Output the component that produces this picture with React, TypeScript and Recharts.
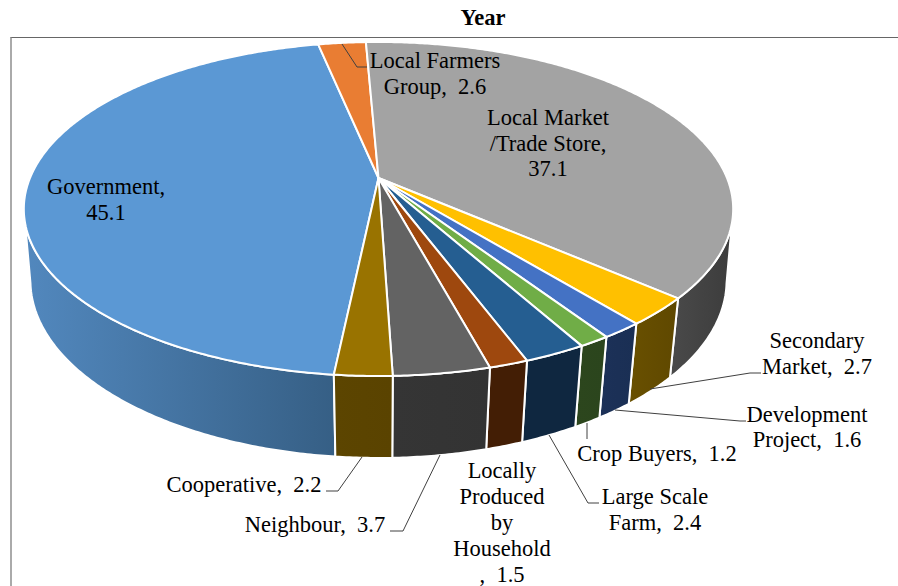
import React from "react";
import { PieChart, Pie } from "recharts";

const categories = ["Government", "Local Farmers Group", "Local Market /Trade Store", "Secondary Market", "Development Project", "Crop Buyers", "Large Scale Farm", "Locally Produced by Household", "Neighbour", "Cooperative"];
const values = [45.1, 2.6, 37.1, 2.7, 1.6, 1.2, 2.4, 1.5, 3.7, 2.2];
const faceColors = ["#5B98D4", "#E97D33", "#A3A3A3", "#FFC000", "#4472C4", "#70AD47", "#255E91", "#9E480E", "#636363", "#997300"];
const wallStart = ["#5288BE", "#8C4A1D", "#4A4A4A", "#695000", "#1C3158", "#2C461D", "#0F2740", "#431E05", "#353535", "#5C4500"];
const wallEnd = ["#365F85", "#8C4A1D", "#3C3C3C", "#5F4800", "#1A2F54", "#2B451D", "#0F2740", "#431E05", "#333333", "#5A4300"];
const labelLines = [
  ["Government,", "45.1"],
  ["Local Farmers", "Group,\u00a0 2.6"],
  ["Local Market", "/Trade Store,", "37.1"],
  ["Secondary", "Market,\u00a0 2.7"],
  ["Development", "Project,\u00a0 1.6"],
  ["Crop Buyers,\u00a0 1.2"],
  ["Large Scale", "Farm,\u00a0 2.4"],
  ["Locally", "Produced", "by", "Household", ",\u00a0 1.5"],
  ["Neighbour,\u00a0 3.7"],
  ["Cooperative,\u00a0 2.2"],
];

// Layout of the labels and their leader lines (not data)
const labelCentre = [106, 435, 548, 817, 807, 657, 655, 502, 315, 244];
const labelBaselines = [
  [194, 220], [68, 94], [125, 151, 176], [348, 374], [422, 447], [461], [504, 530], [478, 504, 530, 556, 582], [532], [492],
];
const leaders: (string | null)[] = [
  null,
  "342,44 357,67 367,67",
  null,
  "650,389 750,373 761,373",
  "615,410 740,421 746,421",
  "587,423 587,439",
  "549,435 588,503 599,503",
  null,
  "440,455 403,531 390,531",
  "362,457 338,491 326,491",
];

const chartData = categories.map((name, i) => ({ name, value: values[i], fill: faceColors[i], idx: i }));

const TOP = { a: 128.2, b: 178, c: -0.1856, d: 348.5 };
const BOTTOM = { a: 129.8, b: 250.3, c: -0.17, d: 343 };
const CX = 378.5;

type Plane = typeof TOP;
const project = (thetaDeg: number, p: Plane) => {
  const r = (thetaDeg * Math.PI) / 180;
  const x = Math.sin(r);
  const y = -Math.cos(r);
  const w = 1 + p.c * y;
  return [CX + (x * p.d) / w, (p.a * y + p.b) / w];
};
const arc = (from: number, to: number, p: Plane) => {
  const out: number[][] = [];
  const n = Math.max(2, Math.ceil(Math.abs(to - from) * 2));
  for (let i = 0; i <= n; i++) out.push(project(from + ((to - from) * i) / n, p));
  return out;
};
const toPath = (pts: number[][]) => "M" + pts.map((q) => q[0].toFixed(2) + "," + q[1].toFixed(2)).join("L") + "Z";

const WALL_FROM = 100.7;
const WALL_TO = 259.3;

const Slice3D = (props: any) => {
  const idx: number = props.payload?.idx ?? props.idx ?? 0;
  const t0 = 90 - props.startAngle;
  const t1 = 90 - props.endAngle;
  const walls: React.ReactNode[] = [];
  for (const k of [-360, 0, 360]) {
    const a = Math.max(t0, WALL_FROM + k);
    const b = Math.min(t1, WALL_TO + k);
    if (b > a) {
      const pts = [...arc(a, b, TOP), ...arc(b, a, BOTTOM)];
      walls.push(<path key={k} d={toPath(pts)} fill={`url(#wall${idx})`} stroke="#fff" strokeWidth={2} strokeLinejoin="round" />);
    }
  }
  const face = [[CX, TOP.b], ...arc(t0, t1, TOP)];
  return (
    <g>
      <defs>
        <linearGradient id={`wall${idx}`} x1="0" y1="0" x2="1" y2="0">
          <stop offset="0" stopColor={wallStart[idx]} />
          <stop offset="1" stopColor={wallEnd[idx]} />
        </linearGradient>
      </defs>
      {walls}
      <path d={toPath(face)} fill={faceColors[idx]} stroke="#fff" strokeWidth={2} strokeLinejoin="round" />
    </g>
  );
};

const SliceLabel = (props: any) => {
  const idx: number = props.index ?? props.payload?.idx ?? 0;
  const leader = leaders[idx];
  return (
    <g>
      {leader && <polyline points={leader} fill="none" stroke="#404040" strokeWidth={1} />}
      <text textAnchor="middle" fontFamily="'Liberation Serif', serif" fontSize={22.5} fill="#000">
        {labelLines[idx].map((line, j) => (
          <tspan key={j} x={labelCentre[idx]} y={labelBaselines[idx][j]}>{line}</tspan>
        ))}
      </text>
    </g>
  );
};

export default function App() {
  return (
    <div style={{ position: "absolute", left: 0, top: 0, width: 898, height: 586, overflow: "hidden", background: "#fff" }}>
      <div style={{ position: "absolute", left: 10, top: 37, width: 900, height: 600, borderTop: "1px solid #666", borderLeft: "2px solid #aaa" }} />
      <div style={{ position: "absolute", left: 0, top: 0 }}>
        <PieChart width={898} height={586} margin={{ top: 0, right: 0, bottom: 0, left: 0 }}>
          <text x={483} y={25} textAnchor="middle" fontFamily="'Liberation Serif', serif" fontSize={22.5} fontWeight="bold" fill="#000">Year</text>
          <Pie
            data={chartData}
            dataKey="value"
            nameKey="name"
            cx={CX}
            cy={TOP.b}
            outerRadius={160}
            startAngle={-96}
            endAngle={-456}
            isAnimationActive={false}
            shape={Slice3D}
            activeShape={Slice3D}
            inactiveShape={Slice3D}
            label={SliceLabel}
            labelLine={false}
          />
        </PieChart>
      </div>
    </div>
  );
}
